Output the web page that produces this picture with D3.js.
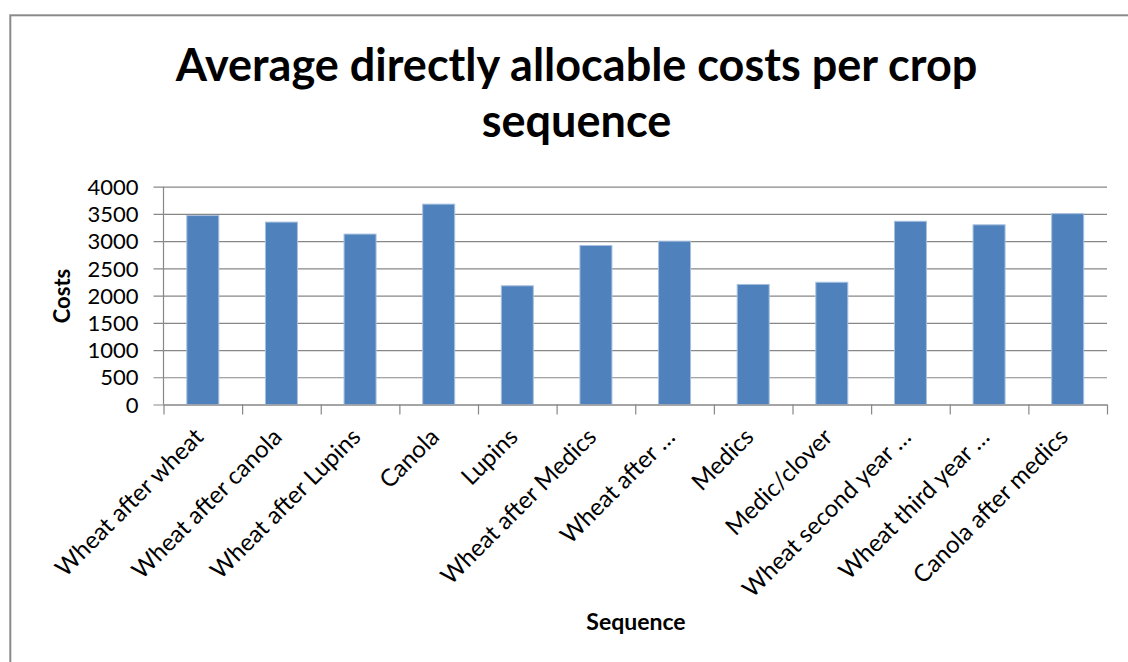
<!DOCTYPE html>
<html>
<head>
<meta charset="utf-8">
<script src="https://cdn.jsdelivr.net/npm/d3@7/dist/d3.min.js"></script>
<style>
  html, body { margin: 0; padding: 0; background: #ffffff; }
  svg { display: block; }
  text { font-family: Lato, "Open Sans", sans-serif; fill: #000; }
</style>
</head>
<body>
<svg id="chart" width="1128" height="662"></svg>
<script>
// Crop sequences and their average directly allocable costs
const categories = [
  "Wheat after wheat", "Wheat after canola", "Wheat after Lupins", "Canola",
  "Lupins", "Wheat after Medics", "Wheat after …", "Medics",
  "Medic/clover", "Wheat second year …", "Wheat third year …", "Canola after medics"
];
const costs = [3470, 3350, 3130, 3680, 2180, 2920, 3000, 2205, 2245, 3365, 3300, 3505];
const yTicks = [0, 500, 1000, 1500, 2000, 2500, 3000, 3500, 4000];
const titleLines = ["Average directly allocable costs per crop", "sequence"];
const yTitle = "Costs";
const xTitle = "Sequence";

const svg = d3.select("#chart");
const W = 1128, H = 662;

svg.append("rect").attr("width", W).attr("height", H).attr("fill", "#fff");

// chart frame
svg.append("rect")
  .attr("x", 10.3).attr("y", 15.3)
  .attr("width", W + 40).attr("height", H + 40)
  .attr("fill", "none").attr("stroke", "#8a8a8a").attr("stroke-width", 2);

const plot = { left: 163.5, right: 1107, top: 186.7, bottom: 404.5 };

const x = d3.scaleBand()
  .domain(categories)
  .range([plot.left, plot.right])
  .paddingInner(0.593)
  .paddingOuter(0.2965);

const y = d3.scaleLinear()
  .domain([0, 4000])
  .range([plot.bottom, plot.top]);

const gridColor = "#878787";

// horizontal gridlines + y axis labels
const yAxis = d3.axisLeft(y)
  .tickValues(yTicks)
  .tickSize(-(plot.right - plot.left))
  .tickSizeOuter(0)
  .tickPadding(0)
  .tickFormat(d3.format("d"));

const gy = svg.append("g")
  .attr("transform", `translate(${plot.left},0)`)
  .call(yAxis);
gy.select(".domain").remove();
gy.selectAll(".tick line")
  .attr("x1", -10)
  .attr("stroke", gridColor).attr("stroke-width", 1.2);
gy.selectAll(".tick text")
  .attr("x", -25)
  .attr("dy", "0.35em")
  .style("font-family", "Lato, sans-serif")
  .style("font-size", "22px")
  .attr("fill", "#000");

// bars
svg.append("g")
  .selectAll("rect")
  .data(categories)
  .join("rect")
  .attr("x", d => x(d))
  .attr("width", x.bandwidth())
  .attr("y", (d, i) => y(costs[i]))
  .attr("height", (d, i) => y(0) - y(costs[i]))
  .attr("fill", "#4f81bd")
  .attr("stroke", "#a8c0de")
  .attr("stroke-width", 1);

// vertical axis line
svg.append("line")
  .attr("x1", plot.left).attr("x2", plot.left)
  .attr("y1", plot.top).attr("y2", plot.bottom)
  .attr("stroke", gridColor).attr("stroke-width", 1.2);

// category axis: tick marks on category boundaries
const boundary = d3.scaleLinear()
  .domain([0, categories.length])
  .range([plot.left, plot.right]);

const gx = svg.append("g")
  .attr("transform", `translate(0,${plot.bottom})`)
  .call(d3.axisBottom(boundary)
    .tickValues(d3.range(categories.length + 1))
    .tickSize(10)
    .tickSizeOuter(0)
    .tickFormat(""));
gx.select(".domain").attr("stroke", gridColor).attr("stroke-width", 1.2);
gx.selectAll(".tick line").attr("stroke", gridColor).attr("stroke-width", 1.2);

// rotated category labels
svg.append("g")
  .selectAll("text")
  .data(categories)
  .join("text")
  .attr("transform", d => `translate(${x(d) + x.bandwidth() / 2 + 2},${plot.bottom + 34}) rotate(-45)`)
  .attr("text-anchor", "end")
  .style("font-size", "24px")
  .text(d => d);

// title
svg.append("g")
  .selectAll("text")
  .data(titleLines)
  .join("text")
  .attr("x", 576.5)
  .attr("y", (d, i) => 81 + i * 56)
  .attr("text-anchor", "middle")
  .style("font-size", "45px")
  .style("font-weight", "bold")
  .text(d => d);

// axis titles
svg.append("text")
  .attr("transform", "translate(70,296) rotate(-90)")
  .attr("text-anchor", "middle")
  .style("font-size", "22px")
  .style("font-weight", "bold")
  .text(yTitle);

svg.append("text")
  .attr("x", 636)
  .attr("y", 630)
  .attr("text-anchor", "middle")
  .style("font-size", "23px")
  .style("font-weight", "bold")
  .text(xTitle);
</script>
</body>
</html>
